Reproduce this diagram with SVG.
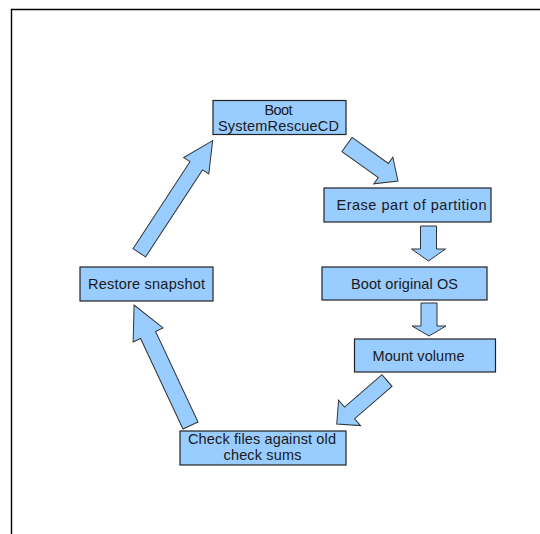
<svg xmlns="http://www.w3.org/2000/svg" width="540" height="534" viewBox="0 0 540 534">
<defs>
<style>
.box{fill:#99ccff;stroke:#222;stroke-width:1.2}
.arr{fill:#99ccff;stroke:#333;stroke-width:1;stroke-linejoin:miter}
.t{font-family:"Liberation Sans",Arial,sans-serif;font-size:14.5px;fill:#1a1a1a;text-anchor:middle}
</style>
</defs>
<rect width="540" height="534" fill="#ffffff"/>
<path d="M11.5,534 V9.5 H540" fill="none" stroke="#000" stroke-width="1.4"/>
<g id="connectors">
<path class="arr" transform="translate(347,144.5) rotate(35.6)" d="M0,-8.7 H44.7 V-16.3 L62.7,0 L44.7,16.3 V8.7 H0 Z"/>
<path class="arr" transform="translate(428.5,226) rotate(90)" d="M0,-8 H23 V-17 L35,0 L23,17 V8 H0 Z"/>
<path class="arr" transform="translate(429,303) rotate(90)" d="M0,-8 H23 V-17 L33,0 L23,17 V8 H0 Z"/>
<path class="arr" transform="translate(387,380.5) rotate(139.1)" d="M0,-7.7 H49.5 V-16.8 L66.5,0 L49.5,16.8 V7.7 H0 Z"/>
<path class="arr" transform="translate(190.5,425.5) rotate(-115.1)" d="M0,-8.3 H100 V-16.5 L133,0 L100,16.5 V8.3 H0 Z"/>
<path class="arr" transform="translate(139.3,252.8) rotate(-56.8)" d="M0,-7.5 H104 V-15 L134,0 L104,15 V7.5 H0 Z"/>
</g>
<g id="boot-src">
<rect class="box" x="213" y="100.5" width="133" height="34"/>
<text class="t" x="278.5" y="115" textLength="28" lengthAdjust="spacing">Boot</text>
<text class="t" x="278.5" y="130.5" textLength="121" lengthAdjust="spacing">SystemRescueCD</text>
</g>
<g id="erase">
<rect class="box" x="324" y="188" width="167" height="34"/>
<text class="t" x="411.5" y="209.5" textLength="150" lengthAdjust="spacing">Erase part of partition</text>
</g>
<g id="boot-os">
<rect class="box" x="322" y="267" width="165" height="33"/>
<text class="t" x="404.5" y="289" textLength="107" lengthAdjust="spacing">Boot original OS</text>
</g>
<g id="mount">
<rect class="box" x="354.5" y="339" width="141" height="33"/>
<text class="t" x="418.5" y="360.5" textLength="92" lengthAdjust="spacing">Mount volume</text>
</g>
<g id="check">
<rect class="box" x="180" y="431" width="166" height="34"/>
<text class="t" x="262" y="443.5" textLength="148" lengthAdjust="spacing">Check files against old</text>
<text class="t" x="262.5" y="459.5" textLength="78" lengthAdjust="spacing">check sums</text>
</g>
<g id="restore">
<rect class="box" x="80" y="267" width="133" height="34"/>
<text class="t" x="146.5" y="289" textLength="117" lengthAdjust="spacing">Restore snapshot</text>
</g>
</svg>
